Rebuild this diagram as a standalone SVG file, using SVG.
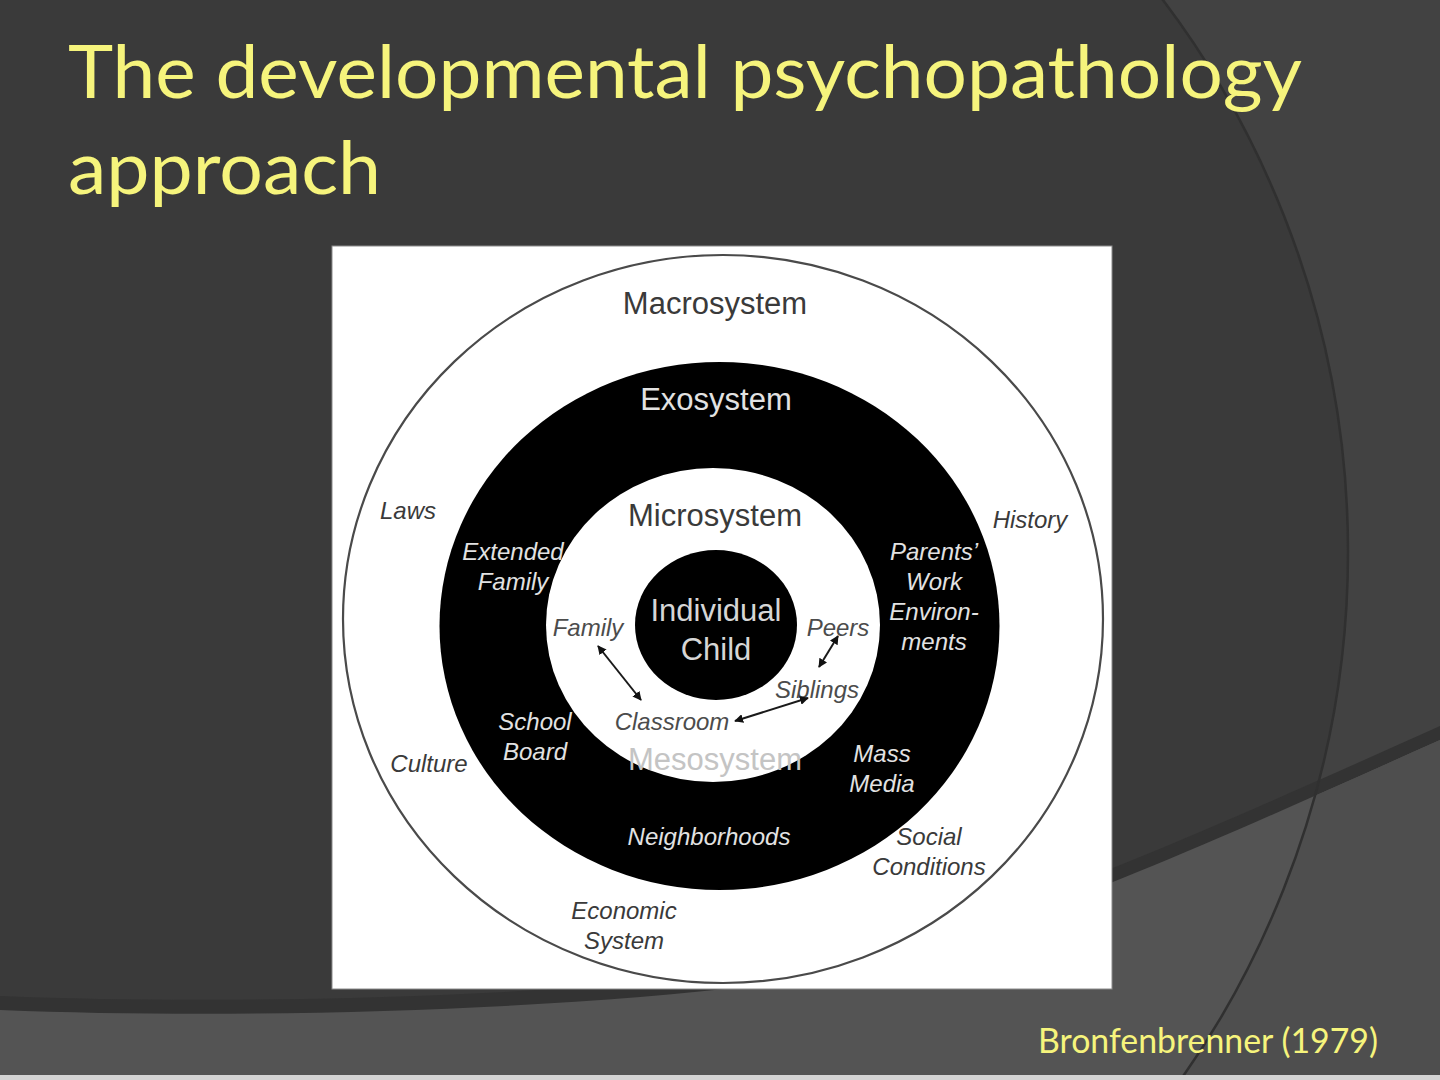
<svg xmlns="http://www.w3.org/2000/svg" width="1440" height="1080" viewBox="0 0 1440 1080">
  <defs>
    <style>
      .title { font-family: Lato, "Open Sans", "Liberation Sans", sans-serif; fill: #f6f47c; }
      .big { font-family: "Liberation Sans", Arial, sans-serif; font-size: 31px; text-anchor: middle; }
      .lab { font-family: "Liberation Sans", Arial, sans-serif; font-size: 24px; font-style: italic; text-anchor: middle; }
      .dk { fill: #3a3a3a; }
      .md { fill: #4c4c4c; }
      .lt { fill: #e2e2e2; }
      .conn { stroke: #1a1a1a; stroke-width: 2; fill: none; marker-start: url(#ah); marker-end: url(#ah); }
    </style>
    <marker id="ah" viewBox="0 0 10 10" refX="9" refY="5" markerWidth="9" markerHeight="9" markerUnits="userSpaceOnUse" orient="auto-start-reverse">
      <path d="M0,0 L10,5 L0,10 Z" fill="#111"/>
    </marker>
    <clipPath id="outside">
      <path d="M0,0 H1440 V1080 H0 Z M-482,552 A915,915 0 1,0 1348,552 A915,915 0 1,0 -482,552 Z" clip-rule="evenodd"/>
    </clipPath>
  </defs>

  <g id="background">
    <rect x="0" y="0" width="1440" height="1080" fill="#3a3a3a"/>
    <rect x="0" y="0" width="1440" height="1080" fill="#424242" clip-path="url(#outside)"/>
    <path d="M0,996 C250,1006 550,996 760,971 C950,946 1150,856 1440,726 L1440,1080 L0,1080 Z" fill="#333333"/>
    <path d="M0,1010 C250,1020 550,1010 760,985 C950,960 1150,870 1440,740 L1440,1080 L0,1080 Z" fill="#545454"/>
    <path d="M0,1010 C250,1020 550,1010 760,985 C950,960 1150,870 1440,740 L1440,1080 L0,1080 Z" fill="#4e4e4e" clip-path="url(#outside)"/>
    <circle cx="433" cy="552" r="915" fill="none" stroke="#303030" stroke-width="2.5"/>
    <rect x="0" y="1075" width="1440" height="5" fill="#d4d4d4"/>
  </g>

  <g id="title">
    <text class="title" x="68" y="98" font-size="74" textLength="1234" lengthAdjust="spacingAndGlyphs">The developmental psychopathology</text>
    <text class="title" x="68" y="194" font-size="74" textLength="313" lengthAdjust="spacingAndGlyphs">approach</text>
  </g>

  <g id="diagram-panel">
    <rect x="332" y="246" width="780" height="743" fill="#ffffff" stroke="#8a8a8a" stroke-width="1"/>
  </g>

  <g id="macrosystem">
    <ellipse cx="723" cy="619" rx="380" ry="364" fill="#ffffff" stroke="#4a4a4a" stroke-width="2.2"/>
    <text class="big dk" x="715" y="314">Macrosystem</text>
    <text class="lab dk" x="408" y="519">Laws</text>
    <text class="lab dk" x="1030" y="528">History</text>
    <text class="lab dk" x="429" y="772">Culture</text>
    <text class="lab dk" x="929" y="845">Social</text>
    <text class="lab dk" x="929" y="875">Conditions</text>
    <text class="lab dk" x="624" y="919">Economic</text>
    <text class="lab dk" x="624" y="949">System</text>
  </g>

  <g id="exosystem">
    <ellipse cx="719.5" cy="626" rx="280" ry="264" fill="#000000"/>
    <text class="big lt" x="716" y="410">Exosystem</text>
    <text class="lab lt" x="513" y="560">Extended</text>
    <text class="lab lt" x="513" y="590">Family</text>
    <text class="lab lt" x="934" y="560">Parents’</text>
    <text class="lab lt" x="934" y="590">Work</text>
    <text class="lab lt" x="934" y="620">Environ-</text>
    <text class="lab lt" x="934" y="650">ments</text>
    <text class="lab lt" x="535" y="730">School</text>
    <text class="lab lt" x="535" y="760">Board</text>
    <text class="lab lt" x="882" y="762">Mass</text>
    <text class="lab lt" x="882" y="792">Media</text>
    <text class="lab lt" x="709" y="845">Neighborhoods</text>
  </g>

  <g id="microsystem">
    <ellipse cx="713" cy="625" rx="167" ry="157" fill="#ffffff"/>
    <text class="big dk" x="715" y="526">Microsystem</text>
    <text class="lab md" x="588" y="636">Family</text>
    <text class="lab md" x="838" y="636">Peers</text>
    <text class="lab md" x="817" y="698">Siblings</text>
    <text class="lab md" x="672" y="730">Classroom</text>
  </g>

  <g id="individual-child">
    <ellipse cx="716" cy="625" rx="81" ry="75" fill="#000000"/>
    <text class="big" x="716" y="621" fill="#d6d6d6">Individual</text>
    <text class="big" x="716" y="660" fill="#d6d6d6">Child</text>
  </g>

  <g id="mesosystem">
    <text class="big" x="715" y="770" fill="#c4c4c4">Mesosystem</text>
  </g>

  <g id="connectors">
    <line class="conn" x1="598" y1="646" x2="641" y2="700"/>
    <line class="conn" x1="838" y1="636" x2="819" y2="667"/>
    <line class="conn" x1="808" y1="698" x2="735" y2="721"/>
  </g>

  <g id="citation">
    <text class="title" x="1038" y="1053" font-size="34" textLength="340" lengthAdjust="spacingAndGlyphs">Bronfenbrenner (1979)</text>
  </g>
</svg>
